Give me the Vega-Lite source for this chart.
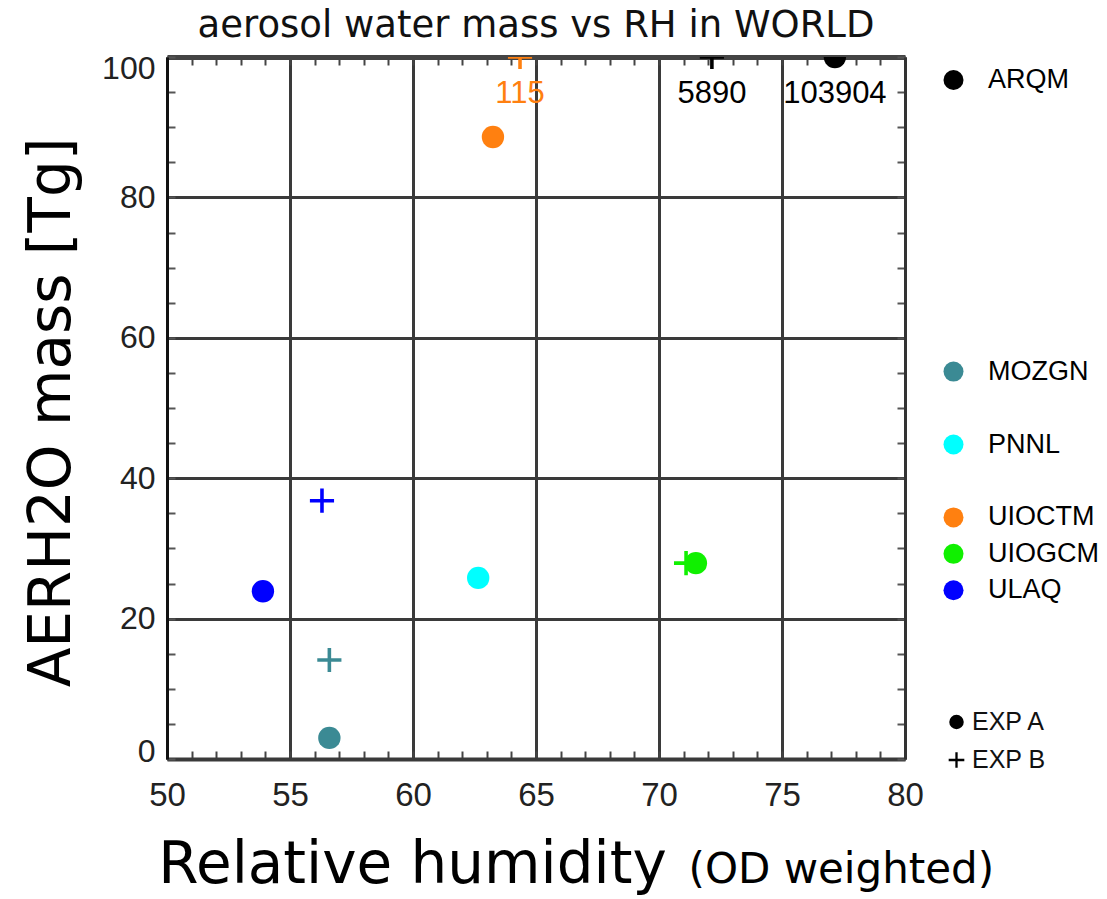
{
  "$schema": "https://vega.github.io/schema/vega-lite/v6.json",
  "width": 738,
  "height": 702,
  "autosize": {"type": "none"},
  "padding": {"left": 167, "top": 57, "right": 202, "bottom": 140},
  "background": "white",
  "config": {"view": {"stroke": null}},
  "title": {
    "text": "aerosol water mass vs RH in WORLD",
    "font": "DejaVu Sans",
    "fontSize": 37,
    "fontWeight": "normal",
    "color": "#111111",
    "anchor": "middle",
    "frame": "group",
    "baseline": "alphabetic",
    "offset": 18,
    "dy": 40
  },
  "data": {
    "values": [
      {"model": "ARQM", "exp": "EXP B", "rh": 72.15, "mass": 5890},
      {"model": "MOZGN", "exp": "EXP B", "rh": 56.6, "mass": 14.1},
      {"model": "UIOCTM", "exp": "EXP B", "rh": 64.35, "mass": 115},
      {"model": "UIOGCM", "exp": "EXP B", "rh": 71.1, "mass": 27.9},
      {"model": "ULAQ", "exp": "EXP B", "rh": 56.3, "mass": 36.8},
      {"model": "ARQM", "exp": "EXP A", "rh": 77.15, "mass": 103904},
      {"model": "MOZGN", "exp": "EXP A", "rh": 56.6, "mass": 3.0},
      {"model": "PNNL", "exp": "EXP A", "rh": 62.65, "mass": 25.8},
      {"model": "UIOCTM", "exp": "EXP A", "rh": 63.25, "mass": 88.6},
      {"model": "UIOGCM", "exp": "EXP A", "rh": 71.5, "mass": 27.9},
      {"model": "ULAQ", "exp": "EXP A", "rh": 53.9, "mass": 23.9}
    ]
  },
  "layer": [
    {
      "mark": {"type": "point", "filled": true, "opacity": 1, "size": 500, "clip": true},
      "encoding": {
        "x": {
          "field": "rh",
          "type": "quantitative",
          "scale": {"domain": [50, 80], "nice": false, "zero": false},
          "axis": {
            "orient": "bottom",
            "values": [50,51,52,53,54,55,56,57,58,59,60,61,62,63,64,65,66,67,68,69,70,71,72,73,74,75,76,77,78,79,80],
            "labelExpr": "datum.value % 5 === 0 ? datum.label : ''",
            "labelFont": "Liberation Sans",
            "labelFontSize": 33,
            "labelColor": "#222222",
            "labelFlush": false,
            "labelOverlap": false,
            "labelPadding": 28,
            "tickSize": -8,
            "tickColor": "#444444",
            "tickWidth": 2,
            "grid": true,
            "gridColor": "#3a3a3a",
            "gridWidth": 3,
            "gridOpacity": {"condition": {"test": "datum.value % 5 === 0", "value": 1}, "value": 0},
            "domainColor": "#3a3a3a",
            "domainWidth": 4,
            "title": "Relative humidity",
            "titleFont": "DejaVu Sans",
            "titleFontSize": 58,
            "titleFontWeight": "normal",
            "titleColor": "#000000",
            "titleX": 245,
            "titleY": 123,
            "titleAlign": "center",
            "titleBaseline": "alphabetic"
          }
        },
        "y": {
          "field": "mass",
          "type": "quantitative",
          "scale": {"domain": [0, 100], "nice": false, "zero": true, "clamp": true},
          "axis": {
            "orient": "left",
            "values": [0,5,10,15,20,25,30,35,40,45,50,55,60,65,70,75,80,85,90,95,100],
            "labelExpr": "datum.value % 20 === 0 ? datum.label : ''",
            "labelFont": "Liberation Sans",
            "labelFontSize": 32,
            "labelColor": "#222222",
            "labelFlush": false,
            "labelOverlap": false,
            "labelPadding": 20,
            "labelOffset": {"condition": [{"test": "datum.value === 100", "value": 11}, {"test": "datum.value === 0", "value": -8}], "value": 0},
            "tickSize": -8,
            "tickColor": "#555555",
            "tickWidth": 2,
            "grid": true,
            "gridColor": "#3a3a3a",
            "gridWidth": 3,
            "gridOpacity": {"condition": {"test": "datum.value % 20 === 0", "value": 1}, "value": 0},
            "domainColor": "#111111",
            "domainWidth": 3,
            "title": "AERH2O mass [Tg]",
            "titleFont": "DejaVu Sans",
            "titleFontSize": 58,
            "titleFontWeight": "normal",
            "titleColor": "#000000",
            "titleAngle": 270,
            "titleX": -115,
            "titleY": 355,
            "titleAlign": "center",
            "titleBaseline": "middle"
          }
        },
        "color": {
          "field": "model",
          "type": "nominal",
          "scale": {
            "domain": ["ARQM", "DLR", "GISS", "GOCART", "KYU", "LOA", "LSCE", "MATCH", "MOZGN", "MPI_HAM", "PNNL", "TM5", "UIOCTM", "UIOGCM", "ULAQ"],
            "range": ["#000000", "#ffffff", "#ffffff", "#ffffff", "#ffffff", "#ffffff", "#ffffff", "#ffffff", "#3b8a94", "#ffffff", "#00ffff", "#ffffff", "#ff8010", "#10f000", "#0000ff"]
          },
          "legend": {
            "orient": "none",
            "legendX": 773,
            "legendY": 6,
            "title": null,
            "padding": 0,
            "symbolType": "circle",
            "symbolSize": 400,
            "labelFont": "Liberation Sans",
            "labelFontSize": 27,
            "labelOffset": 21,
            "clipHeight": 34,
            "rowPadding": 2.45,
            "labelExpr": "indexof(['DLR','GISS','GOCART','KYU','LOA','LSCE','MATCH','MPI_HAM','TM5'], datum.label) >= 0 ? '' : datum.label",
            "encode": {"labels": {"update": {"fill": {"scale": "color", "field": "value"}}}}
          }
        },
        "shape": {
          "field": "exp",
          "type": "nominal",
          "scale": {
            "domain": ["EXP A", "EXP B"],
            "range": ["circle", "M-1.08,-0.16H-0.16V-1.08H0.16V-0.16H1.08V0.16H0.16V1.08H-0.16V0.16H-1.08Z"]
          },
          "legend": {
            "orient": "none",
            "legendX": 777,
            "legendY": 647,
            "title": null,
            "padding": 0,
            "symbolSize": 210,
            "labelFont": "Liberation Sans",
            "labelFontSize": 25,
            "labelColor": "#111111",
            "labelOffset": 3,
            "clipHeight": 36,
            "rowPadding": 2,
            "encode": {"symbols": {"update": {"fill": {"value": "#000000"}, "stroke": {"value": "transparent"}}}}
          }
        }
      }
    },
    {
      "transform": [{"filter": "datum.mass > 100"}],
      "mark": {"type": "text", "dy": 37, "baseline": "middle", "align": "center", "font": "Liberation Sans", "fontSize": 31},
      "encoding": {
        "x": {
          "field": "rh",
          "type": "quantitative",
          "axis": {
            "orient": "top",
            "values": [50,51,52,53,54,55,56,57,58,59,60,61,62,63,64,65,66,67,68,69,70,71,72,73,74,75,76,77,78,79,80],
            "labels": false,
            "tickSize": -8,
            "tickColor": "#444444",
            "tickWidth": 2,
            "grid": false,
            "domainColor": "#444444",
            "domainWidth": 5,
            "title": null
          }
        },
        "y": {
          "field": "mass",
          "type": "quantitative",
          "axis": {
            "orient": "right",
            "values": [0,5,10,15,20,25,30,35,40,45,50,55,60,65,70,75,80,85,90,95,100],
            "labels": false,
            "tickSize": -8,
            "tickColor": "#555555",
            "tickWidth": 2,
            "grid": false,
            "domainColor": "#333333",
            "domainWidth": 3,
            "title": "(OD weighted)",
            "titleFont": "DejaVu Sans",
            "titleFontSize": 42,
            "titleFontWeight": "normal",
            "titleColor": "#000000",
            "titleAngle": 0,
            "titleX": -217,
            "titleY": 825,
            "titleAlign": "left",
            "titleBaseline": "alphabetic"
          }
        },
        "text": {"field": "mass", "type": "quantitative", "format": "d"},
        "color": {"field": "model", "type": "nominal", "legend": null}
      }
    }
  ],
  "resolve": {"axis": {"x": "independent", "y": "independent"}}
}
